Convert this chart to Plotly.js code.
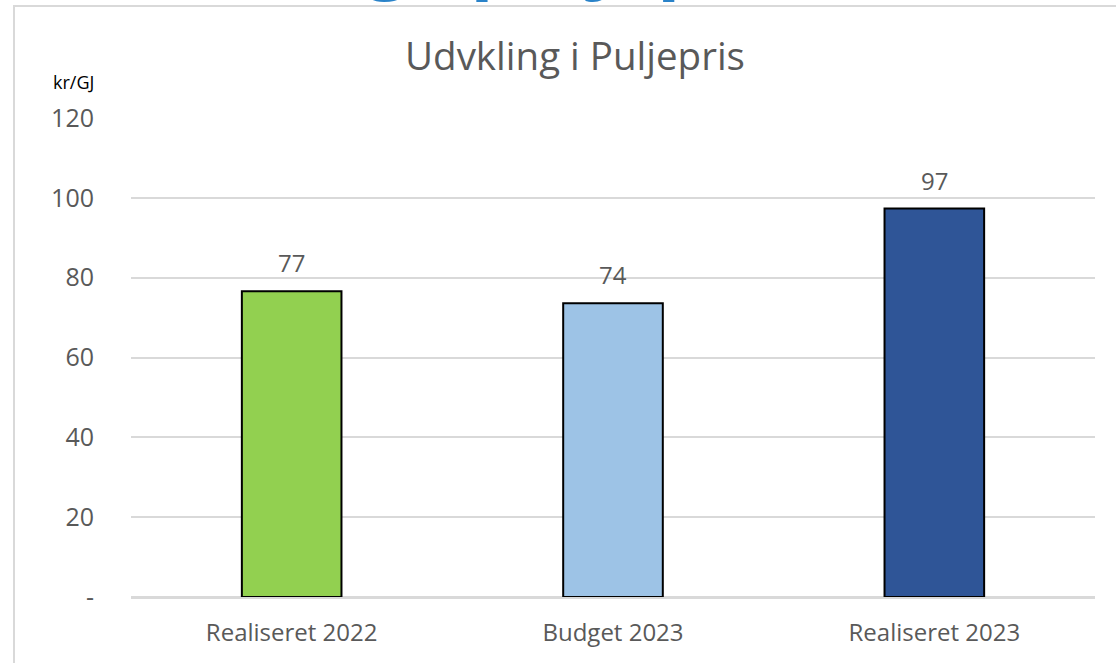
<!DOCTYPE html>
<html>
<head>
<meta charset="utf-8">
<script src="https://cdn.plot.ly/plotly-3.0.1.min.js"></script>
<style>
html,body{margin:0;padding:0;background:#fff;}
#chart{width:1116px;height:663px;}
</style>
</head>
<body>
<div id="chart"></div>
<script>
const categories = ["Realiseret 2022", "Budget 2023", "Realiseret 2023"];
const values = [76.6, 73.6, 97.3];
const labels = ["77", "74", "97"];
const colors = ["#92d050", "#9dc3e6", "#2f5597"];
const yTickVals = [0, 20, 40, 60, 80, 100, 120];
const yTickText = ["-", "20", "40", "60", "80", "100", "120"];

const font = "Open Sans, Noto Sans, sans-serif";

const trace = {
  type: "bar",
  x: categories,
  y: values,
  width: 0.31,
  marker: { color: colors, line: { color: "#000000", width: 2 } },
  hoverinfo: "skip"
};

const annotations = categories.map((c, i) => ({
  x: c, y: values[i], xref: "x", yref: "y",
  text: labels[i], showarrow: false,
  yanchor: "bottom", yshift: 10,
  font: { family: font, size: 24, color: "#595959" }
}));

annotations.push({
  xref: "paper", yref: "paper",
  x: (51 - 131) / 964, y: (597 - 82) / 479,
  xanchor: "left", yanchor: "middle",
  text: "kr/GJ", showarrow: false,
  font: { family: font, size: 18, color: "#000000" }
});

annotations.push({
  xref: "paper", yref: "paper",
  x: (53 - 131) / 964, y: (597 - 8) / 479,
  xanchor: "left", yanchor: "bottom",
  text: "<b>Udvikling i puljepris</b>", showarrow: false,
  font: { family: font, size: 75, color: "#2a83c9" }
});

const layout = {
  width: 1116, height: 663,
  paper_bgcolor: "#ffffff", plot_bgcolor: "#ffffff",
  margin: { l: 131, r: 21, t: 118, b: 66, pad: 0 },
  showlegend: false,
  title: {
    text: "Udvkling i Puljepris",
    x: 575 / 1116, xref: "container", xanchor: "center",
    y: 1 - 57 / 663, yref: "container", yanchor: "middle",
    font: { family: font, size: 38.5, color: "#595959" }
  },
  xaxis: {
    type: "category",
    showgrid: false, zeroline: false,
    showline: false,
    ticks: "outside", ticklen: 14, tickcolor: "rgba(0,0,0,0)",
    tickfont: { family: font, size: 24, color: "#595959" }
  },
  yaxis: {
    range: [0, 120],
    tickvals: yTickVals, ticktext: yTickText,
    showgrid: true, gridcolor: "#d9d9d9", gridwidth: 2,
    zeroline: true, zerolinecolor: "#d9d9d9", zerolinewidth: 3,
    showline: false,
    ticks: "outside", ticklen: 31, tickcolor: "rgba(0,0,0,0)",
    tickfont: { family: font, size: 25, color: "#595959" }
  },
  shapes: [{
    type: "rect", xref: "paper", yref: "paper",
    x0: (14 - 131) / 964, x1: (1130 - 131) / 964,
    y0: (597 - 680) / 479, y1: (597 - 6) / 479,
    line: { color: "#d9d9d9", width: 2 }, fillcolor: "rgba(0,0,0,0)",
    layer: "below"
  }],
  annotations: annotations
};

Plotly.newPlot("chart", [trace], layout, { displayModeBar: false, staticPlot: true });
</script>
</body>
</html>
